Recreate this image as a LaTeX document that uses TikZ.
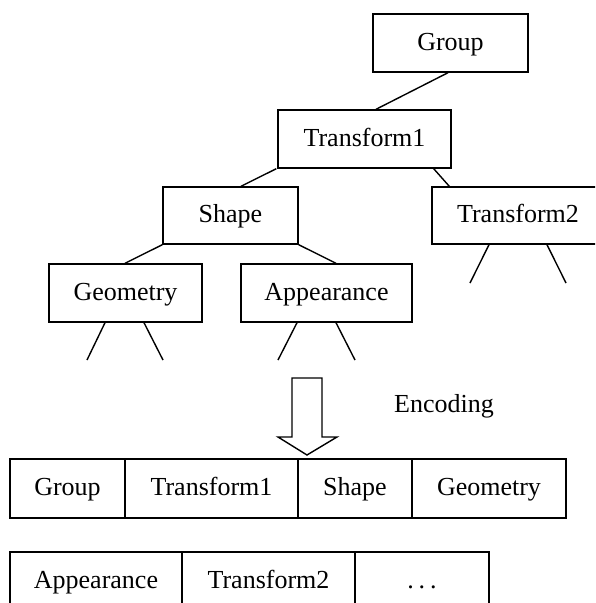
\documentclass[tikz,border=0pt]{standalone}
\usepackage{fontspec}
\setmainfont{Liberation Serif}
\begin{document}
\begin{tikzpicture}[x=1pt,y=-1pt,
  box/.style={draw, line width=1.4pt, inner sep=0pt,
    text height=19pt, text depth=5pt,
    font=\fontsize{26}{30}\selectfont},
  link/.style={line width=1.4pt},
  label/.style={inner sep=0pt, font=\fontsize{26}{30}\selectfont}]
\useasboundingbox (0,0) rectangle (595,603);
\clip (0,0) rectangle (595,603);

% scene-graph tree
\node[box, minimum width=155pt, minimum height=58pt] (g)   at (450.5,43)  {Group};
\node[box, minimum width=173pt, minimum height=58pt] (t1)  at (364.5,139) {Transform1};
\node[box, minimum width=135pt, minimum height=57pt] (s)   at (230.5,215.5) {Shape};
\node[box, minimum width=172pt, minimum height=57pt] (t2)  at (518,215.5) {Transform2};
\node[box, minimum width=153pt, minimum height=58pt] (geo) at (125.5,293) {Geometry};
\node[box, minimum width=171pt, minimum height=58pt] (app) at (326.5,293) {Appearance};

\draw[link] ([xshift=-2.5pt]g.south) -- ([xshift=11.5pt]t1.north);
\draw[link] ([xshift=-1pt]t1.south west) -- ([xshift=10.5pt]s.north);
\draw[link] ([xshift=-18pt]t1.south east) -- ([xshift=18pt]t2.north west);
\draw[link] (s.south west) -- ([xshift=-0.5pt]geo.north);
\draw[link] (s.south east) -- ([xshift=9.5pt]app.north);

% open subtrees below the leaves
\coordinate (geoL) at (87,360);  \coordinate (geoR) at (163,360);
\coordinate (appL) at (278,360); \coordinate (appR) at (355,360);
\coordinate (t2L)  at (470,283); \coordinate (t2R)  at (566,283);
\draw[link] ([xshift=-20.5pt]geo.south) -- (geoL);
\draw[link] ([xshift=18.5pt]geo.south) -- (geoR);
\draw[link] ([xshift=-29.5pt]app.south) -- (appL);
\draw[link] ([xshift=9.5pt]app.south) -- (appR);
\draw[link] ([xshift=-29pt]t2.south) -- (t2L);
\draw[link] ([xshift=29pt]t2.south) -- (t2R);

% encoding arrow
\draw[link, fill=white, line join=miter]
  (292,378) -- (322,378) -- (322,437) -- (337,437) -- (307,455)
  -- (278,437) -- (292,437) -- cycle;
\node[label] (enc) at (444,406) {Encoding};

% encoded sequence, first row
\node[box, minimum width=115pt, minimum height=59pt] (r1) at (67.5,488.5)  {Group};
\node[box, minimum width=173pt, minimum height=59pt] (r2) at (211.5,488.5) {Transform1};
\node[box, minimum width=114pt, minimum height=59pt] (r3) at (355,488.5)   {Shape};
\node[box, minimum width=154pt, minimum height=59pt] (r4) at (489,488.5)   {Geometry};

% encoded sequence, second row
\node[box, minimum width=172pt, minimum height=59pt] (r5) at (96,581.5)    {Appearance};
\node[box, minimum width=173pt, minimum height=59pt] (r6) at (268.5,581.5) {Transform2};
\node[box, minimum width=134pt, minimum height=59pt] (r7) at (422,581.5)   {.\hspace{5pt}.\hspace{5pt}.};
\end{tikzpicture}
\end{document}
